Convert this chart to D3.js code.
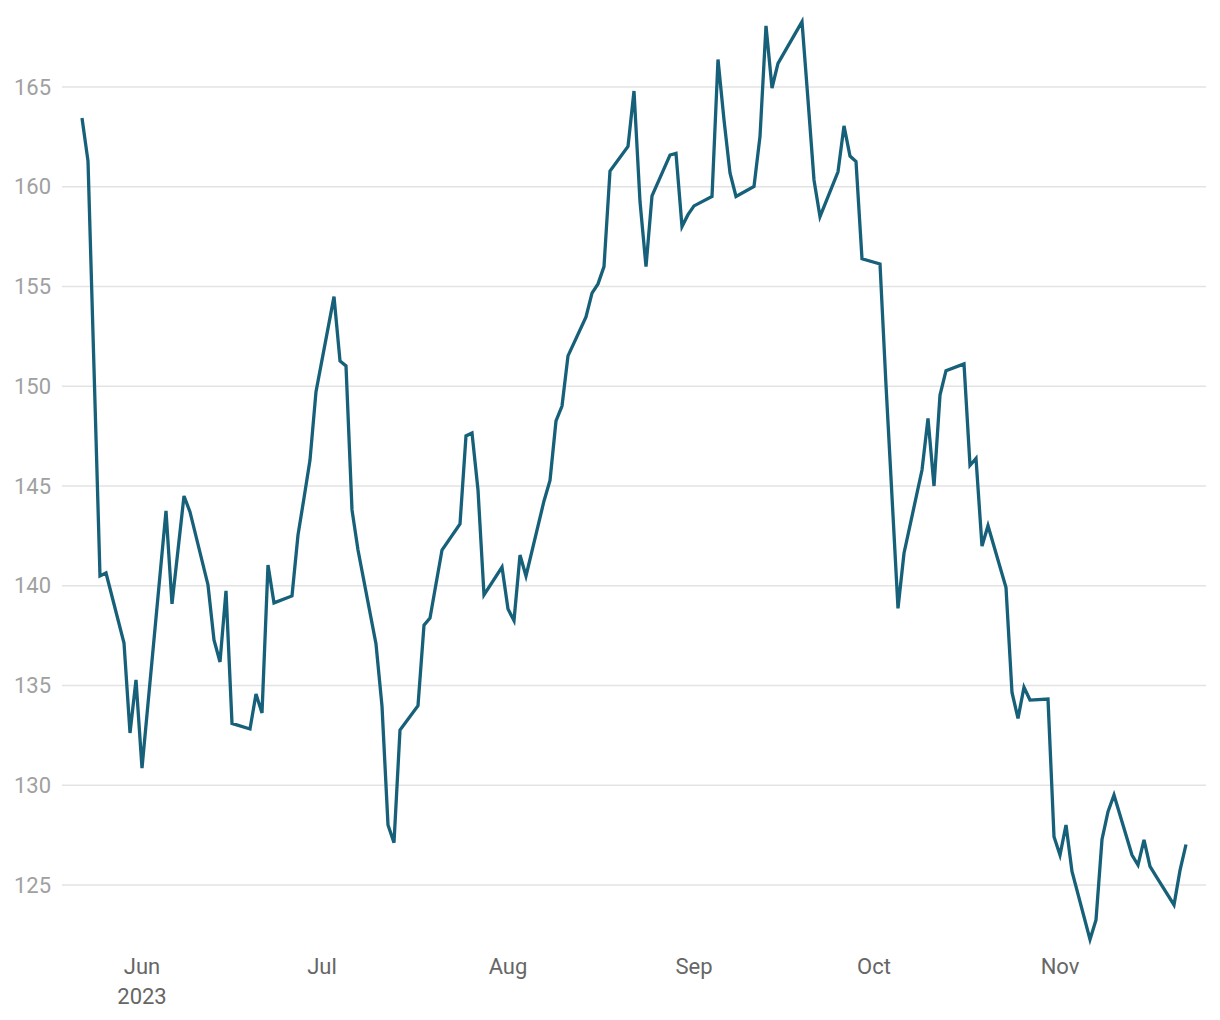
<!DOCTYPE html>
<html>
<head>
<meta charset="utf-8">
<script src="https://cdn.jsdelivr.net/npm/d3@7"></script>
<style>
  html, body { margin: 0; padding: 0; background: #ffffff; }
  svg { display: block; font-family: Roboto, "Noto Sans", sans-serif; }
</style>
</head>
<body>
<svg id="chart" width="1220" height="1020"></svg>
<script>
const dates = [
  "2023-05-22","2023-05-23","2023-05-24","2023-05-25","2023-05-26",
  "2023-05-29","2023-05-30","2023-05-31","2023-06-01","2023-06-02",
  "2023-06-05","2023-06-06","2023-06-07","2023-06-08","2023-06-09",
  "2023-06-12","2023-06-13","2023-06-14","2023-06-15","2023-06-16",
  "2023-06-19","2023-06-20","2023-06-21","2023-06-22","2023-06-23",
  "2023-06-26","2023-06-27","2023-06-28","2023-06-29","2023-06-30",
  "2023-07-03","2023-07-04","2023-07-05","2023-07-06","2023-07-07",
  "2023-07-10","2023-07-11","2023-07-12","2023-07-13","2023-07-14",
  "2023-07-17","2023-07-18","2023-07-19","2023-07-20","2023-07-21",
  "2023-07-24","2023-07-25","2023-07-26","2023-07-27","2023-07-28",
  "2023-07-31","2023-08-01","2023-08-02","2023-08-03","2023-08-04",
  "2023-08-07","2023-08-08","2023-08-09","2023-08-10","2023-08-11",
  "2023-08-14","2023-08-15","2023-08-16","2023-08-17","2023-08-18",
  "2023-08-21","2023-08-22","2023-08-23","2023-08-24","2023-08-25",
  "2023-08-28","2023-08-29","2023-08-30","2023-08-31","2023-09-01",
  "2023-09-04","2023-09-05","2023-09-06","2023-09-07","2023-09-08",
  "2023-09-11","2023-09-12","2023-09-13","2023-09-14","2023-09-15",
  "2023-09-18","2023-09-19","2023-09-20","2023-09-21","2023-09-22",
  "2023-09-25","2023-09-26","2023-09-27","2023-09-28","2023-09-29",
  "2023-10-02","2023-10-03","2023-10-04","2023-10-05","2023-10-06",
  "2023-10-09","2023-10-10","2023-10-11","2023-10-12","2023-10-13",
  "2023-10-16","2023-10-17","2023-10-18","2023-10-19","2023-10-20",
  "2023-10-23","2023-10-24","2023-10-25","2023-10-26","2023-10-27",
  "2023-10-30","2023-10-31","2023-11-01","2023-11-02","2023-11-03",
  "2023-11-06","2023-11-07","2023-11-08","2023-11-09","2023-11-10",
  "2023-11-13","2023-11-14","2023-11-15","2023-11-16","2023-11-17",
  "2023-11-20","2023-11-21","2023-11-22"
];
const values = [
  163.45,161.29,150.90,140.49,140.64,
  137.13,132.62,135.28,130.86,134.09,
  143.75,139.09,141.79,144.50,143.70,
  140.04,137.28,136.18,139.74,133.10,
  132.82,134.57,133.62,141.04,139.14,
  139.49,142.54,144.40,146.30,149.73,
  154.49,151.27,151.02,143.80,141.79,
  137.08,133.97,128.01,127.12,132.77,
  133.99,138.03,138.38,140.09,141.79,
  143.10,147.51,147.66,144.80,139.54,
  140.94,138.83,138.26,141.54,140.49,
  144.25,145.28,148.26,149.01,151.52,
  153.47,154.67,155.13,156.00,160.79,
  162.02,164.80,159.26,156.00,159.54,
  161.59,161.67,158.01,158.60,159.04,
  159.51,166.38,163.35,160.69,159.51,
  160.01,162.52,168.06,164.95,166.18,
  167.75,168.27,164.35,160.34,158.50,
  160.75,163.05,161.54,161.27,156.39,
  156.13,150.06,144.47,138.87,141.63,
  145.80,148.39,145.00,149.56,150.78,
  151.12,146.03,146.38,141.99,143.01,
  139.91,134.65,133.35,134.91,134.27,
  134.32,127.42,126.50,128.01,125.68,
  122.27,123.25,127.28,128.68,129.51,
  126.50,126.00,127.26,125.93,125.45,
  124.00,125.73,127.03
];
const yTicks = [125,130,135,140,145,150,155,160,165];
const xTickDates = ["2023-06-01","2023-07-01","2023-08-01","2023-09-01","2023-10-01","2023-11-01"];
const xTickLabels = ["Jun","Jul","Aug","Sep","Oct","Nov"];
const yearLabel = "2023";

const parse = d3.utcParse("%Y-%m-%d");
const data = dates.map((d, i) => ({ date: parse(d), value: values[i] }));

const svg = d3.select("#chart");
const x = d3.scaleUtc()
  .domain([parse("2023-05-22"), parse("2023-11-22")])
  .range([82, 1186]);
const y = d3.scaleLinear().domain([125, 165]).range([885, 87]);

// gridlines
svg.append("g")
  .selectAll("line")
  .data(yTicks)
  .join("line")
  .attr("x1", 62).attr("x2", 1206)
  .attr("y1", d => y(d)).attr("y2", d => y(d))
  .attr("stroke", "#e3e3e3")
  .attr("stroke-width", 1.5);

// y labels
svg.append("g")
  .selectAll("text")
  .data(yTicks)
  .join("text")
  .attr("x", 51)
  .attr("y", d => y(d))
  .attr("dy", "0.35em")
  .attr("text-anchor", "end")
  .attr("font-size", 22)
  .attr("fill", "#a0a0a0")
  .text(d => d);

// x labels
const xg = svg.append("g");
xTickDates.forEach((d, i) => {
  xg.append("text")
    .attr("x", x(parse(d)))
    .attr("y", 974)
    .attr("text-anchor", "middle")
    .attr("font-size", 22)
    .attr("fill", "#666666")
    .text(xTickLabels[i]);
  if (i === 0) {
    xg.append("text")
      .attr("x", x(parse(d)))
      .attr("y", 1004)
      .attr("text-anchor", "middle")
      .attr("font-size", 22)
      .attr("fill", "#666666")
      .text(yearLabel);
  }
});

// line
const line = d3.line().x(d => x(d.date)).y(d => y(d.value));
svg.append("path")
  .datum(data)
  .attr("fill", "none")
  .attr("stroke", "#17607a")
  .attr("stroke-width", 3.3)
  .attr("stroke-linejoin", "miter")
  .attr("d", line);
</script>
</body>
</html>
